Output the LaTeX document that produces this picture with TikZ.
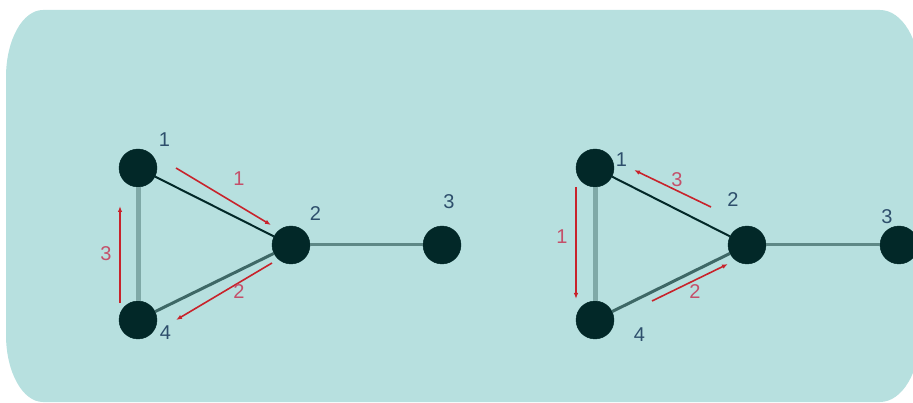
\documentclass[tikz,border=0pt]{standalone}
\usepackage{fontspec}
\setmainfont{Liberation Sans}
\usepackage{tikz}
\usetikzlibrary{arrows.meta}

\definecolor{panel}{HTML}{B7E0DF}
\definecolor{vtx}{HTML}{022828}
\definecolor{nlab}{HTML}{2E4F6C}
\definecolor{flowred}{HTML}{C8232B}
\definecolor{flowlab}{HTML}{C4506A}
\definecolor{paleedge}{HTML}{7FA9A7}
\definecolor{midedge}{HTML}{3E6866}
\definecolor{tailedge}{HTML}{5E8886}

\tikzset{
  vertex/.style={shape=circle, draw=vtx, fill=vtx, minimum size=38pt, inner sep=0pt},
  lbl/.style={text=nlab, font=\fontsize{20}{20}\selectfont, inner sep=0pt},
  flow/.style={draw=flowred, line width=1.6pt, -{Latex[length=6pt,width=4.5pt]}},
  flowlbl/.style={text=flowlab, font=\fontsize{20}{20}\selectfont, inner sep=0pt},
}

\begin{document}
\begin{tikzpicture}[x=1pt, y=-1pt]
        \useasboundingbox (0,0) rectangle (913,403);
        \fill[panel] (6,77) arc[start angle=180, end angle=270, x radius=37, y radius=67]
          -- (880,10) arc[start angle=270, end angle=360, x radius=40, y radius=67]
          -- (920,335) arc[start angle=0, end angle=90, x radius=40, y radius=67]
          -- (43,402) arc[start angle=90, end angle=180, x radius=37, y radius=67] -- cycle;

        % left graph
        \node[vertex, label={[lbl, xshift=7pt, yshift=8pt]45:1}] (A1) at (138,168) {};
        \node[vertex, label={[lbl, xshift=5pt, yshift=11pt]45:2}] (A2) at (291,245) {};
        \node[vertex, label={[lbl, xshift=7pt, yshift=17pt]above:3}] (A3) at (442,245) {};
        \node[vertex, label={[lbl, xshift=5pt, yshift=4pt]-30:4}] (A4) at (138,320) {};
        \draw[line width=5pt, color=paleedge] (A1) -- (A4);
        \draw[line width=2pt, color=vtx] (A1) -- (A2);
        \draw[line width=3pt, color=midedge] (A4) -- (A2);
        \draw[line width=3pt, color=tailedge] (A2) -- (A3);

        \coordinate (a1s) at (176,168);
        \coordinate (a1e) at (271,225);
        \coordinate (a2s) at (272,263);
        \coordinate (a2e) at (176,320);
        \coordinate (a3s) at (120,303);
        \coordinate (a3e) at (120,206);
        \draw[flow] (a1s) -- (a1e);
        \draw[flow] (a2s) -- (a2e);
        \draw[flow] (a3s) -- (a3e);
        \node[flowlbl] (f1) at (239,179) {1};
        \node[flowlbl] (f2) at (239,292) {2};
        \node[flowlbl] (f3) at (106,254) {3};

        % right graph
        \node[vertex, label={[lbl, xshift=7pt, yshift=-12pt]45:1}] (B1) at (595,168) {};
        \node[vertex, label={[lbl, xshift=-5pt, yshift=19pt]100:2}] (B2) at (747,245) {};
        \node[vertex, label={[lbl, xshift=-12pt, yshift=2pt]above:3}] (B3) at (899,245) {};
        \node[vertex, label={[lbl, xshift=22pt, yshift=2pt]-30:4}] (B4) at (595,320) {};
        \draw[line width=5pt, color=paleedge] (B1) -- (B4);
        \draw[line width=2pt, color=vtx] (B1) -- (B2);
        \draw[line width=3pt, color=midedge] (B4) -- (B2);
        \draw[line width=3pt, color=tailedge] (B2) -- (B3);

        \coordinate (b3s) at (711,207);
        \coordinate (b3e) at (634,170);
        \coordinate (b2s) at (652,301);
        \coordinate (b2e) at (728,264);
        \coordinate (b1s) at (576,187);
        \coordinate (b1e) at (576,299);
        \draw[flow] (b3s) -- (b3e);
        \draw[flow] (b2s) -- (b2e);
        \draw[flow] (b1s) -- (b1e);
        \node[flowlbl] (g3) at (677,180) {3};
        \node[flowlbl] (g2) at (695,292) {2};
        \node[flowlbl] (g1) at (562,237) {1};
\end{tikzpicture}
\end{document}
